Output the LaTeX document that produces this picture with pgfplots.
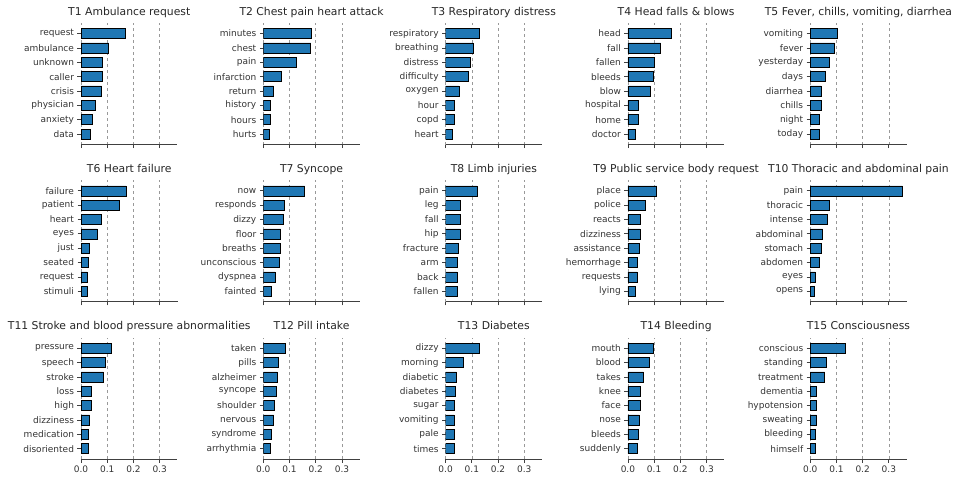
\documentclass[border=0pt]{standalone}
\usepackage{fontspec}
\setmainfont{DejaVu Sans}
\usepackage{pgfplots}
\pgfplotsset{compat=1.18}
\definecolor{barblue}{HTML}{1F77B4}
\pgfplotsset{panel/.style={
  scale only axis, width=96.5pt, height=121.5pt,
  anchor=south west,
  xmin=0, xmax=0.368, ymin=-0.735, ymax=7.735,
  xbar, bar width=0.7,
  xtick={0,0.1,0.2,0.3}, ytick={0,1,2,3,4,5,6,7},
  axis x line*=bottom, axis y line*=left,
  y axis line style={draw=none},
  x axis line style={black!75, line width=0.8pt},
  tick align=outside, major tick length=3.5pt,
  tick style={black!75, line width=0.8pt},
  xmajorgrids, major grid style={dashed, black!40, line width=0.6pt},
  ticklabel style={font=\fontsize{9}{10}\selectfont, text=black!80},
  title style={font=\fontsize{10.8}{12}\selectfont, text=black!85, anchor=base, inner sep=0pt, yshift=2pt},
  xticklabels={},
}}
\newcommand\panel[6]{%
\begin{axis}[panel, at={(#1)}, title={#2}, yticklabels={#3}, #6]
\addplot[fill=barblue, draw=black, line width=0.6pt] coordinates {#4};
\end{axis}}
\begin{document}
\begin{tikzpicture}
\path[use as bounding box] (0pt,0pt) rectangle (957pt,479pt);
% Row 1
\panel{81pt,334.4pt}{T1 Ambulance request}{data,anxiety,physician,crisis,caller,unknown,ambulance,request}
 {(0.037,0) (0.043,1) (0.056,2) (0.079,3) (0.081,4) (0.081,5) (0.105,6) (0.170,7)}{}{}
\panel{263.3pt,334.4pt}{T2 Chest pain heart attack}{hurts,hours,history,return,infarction,pain,chest,minutes}
 {(0.023,0) (0.027,1) (0.028,2) (0.038,3) (0.070,4) (0.127,5) (0.181,6) (0.184,7)}{}{}
\panel{445.6pt,334.4pt}{T3 Respiratory distress}{heart,copd,hour,oxygen,difficulty,distress,breathing,respiratory}
 {(0.025,0) (0.032,1) (0.035,2) (0.051,3) (0.086,4) (0.096,5) (0.105,6) (0.127,7)}{}{}
\panel{627.9pt,334.4pt}{T4 Head falls \& blows}{doctor,home,hospital,blow,bleeds,fallen,fall,head}
 {(0.028,0) (0.041,1) (0.041,2) (0.087,3) (0.097,4) (0.100,5) (0.125,6) (0.165,7)}{}{}
\panel{810.2pt,334.4pt}{T5 Fever, chills, vomiting, diarrhea}{today,night,chills,diarrhea,days,yesterday,fever,vomiting}
 {(0.033,0) (0.033,1) (0.041,2) (0.042,3) (0.059,4) (0.073,5) (0.093,6) (0.102,7)}{}{}
% Row 2
\panel{81pt,177.2pt}{T6 Heart failure}{stimuli,request,seated,just,eyes,heart,patient,failure}
 {(0.023,0) (0.023,1) (0.027,2) (0.033,3) (0.062,4) (0.077,5) (0.146,6) (0.172,7)}{}{}
\panel{263.3pt,177.2pt}{T7 Syncope}{fainted,dyspnea,unconscious,breaths,floor,dizzy,responds,now}
 {(0.032,0) (0.044,1) (0.061,2) (0.063,3) (0.066,4) (0.077,5) (0.080,6) (0.158,7)}{}{}
\panel{445.6pt,177.2pt}{T8 Limb injuries}{fallen,back,arm,fracture,hip,fall,leg,pain}
 {(0.043,0) (0.043,1) (0.043,2) (0.047,3) (0.057,4) (0.057,5) (0.057,6) (0.120,7)}{}{}
\panel{627.9pt,177.2pt}{T9 Public service body request}{lying,requests,hemorrhage,assistance,dizziness,reacts,police,place}
 {(0.030,0) (0.034,1) (0.034,2) (0.044,3) (0.047,4) (0.049,5) (0.066,6) (0.110,7)}{}{}
\panel{810.2pt,177.2pt}{T10 Thoracic and abdominal pain}{opens,eyes,abdomen,stomach,abdominal,intense,thoracic,pain}
 {(0.017,0) (0.019,1) (0.033,2) (0.041,3) (0.047,4) (0.067,5) (0.071,6) (0.351,7)}{}{}
% Row 3
\panel{81pt,19.8pt}{T11 Stroke and blood pressure abnormalities}{disoriented,medication,dizziness,high,loss,stroke,speech,pressure}
 {(0.029,0) (0.029,1) (0.033,2) (0.039,3) (0.039,4) (0.085,5) (0.094,6) (0.115,7)}{}{xticklabels={0.0,0.1,0.2,0.3}}
\panel{263.3pt,19.8pt}{T12 Pill intake}{arrhythmia,syndrome,nervous,shoulder,syncope,alzheimer,pills,taken}
 {(0.028,0) (0.032,1) (0.039,2) (0.042,3) (0.048,4) (0.053,5) (0.059,6) (0.085,7)}{}{xticklabels={0.0,0.1,0.2,0.3}}
\panel{445.6pt,19.8pt}{T13 Diabetes}{times,pale,vomiting,sugar,diabetes,diabetic,morning,dizzy}
 {(0.032,0) (0.032,1) (0.032,2) (0.035,3) (0.038,4) (0.041,5) (0.066,6) (0.129,7)}{}{xticklabels={0.0,0.1,0.2,0.3}}
\panel{627.9pt,19.8pt}{T14 Bleeding}{suddenly,bleeds,nose,face,knee,takes,blood,mouth}
 {(0.035,0) (0.038,1) (0.043,2) (0.046,3) (0.049,4) (0.059,5) (0.080,6) (0.098,7)}{}{xticklabels={0.0,0.1,0.2,0.3}}
\panel{810.2pt,19.8pt}{T15 Consciousness}{himself,bleeding,sweating,hypotension,dementia,treatment,standing,conscious}
 {(0.021,0) (0.021,1) (0.024,2) (0.024,3) (0.024,4) (0.055,5) (0.061,6) (0.135,7)}{}{xticklabels={0.0,0.1,0.2,0.3}}
\end{tikzpicture}
\end{document}
